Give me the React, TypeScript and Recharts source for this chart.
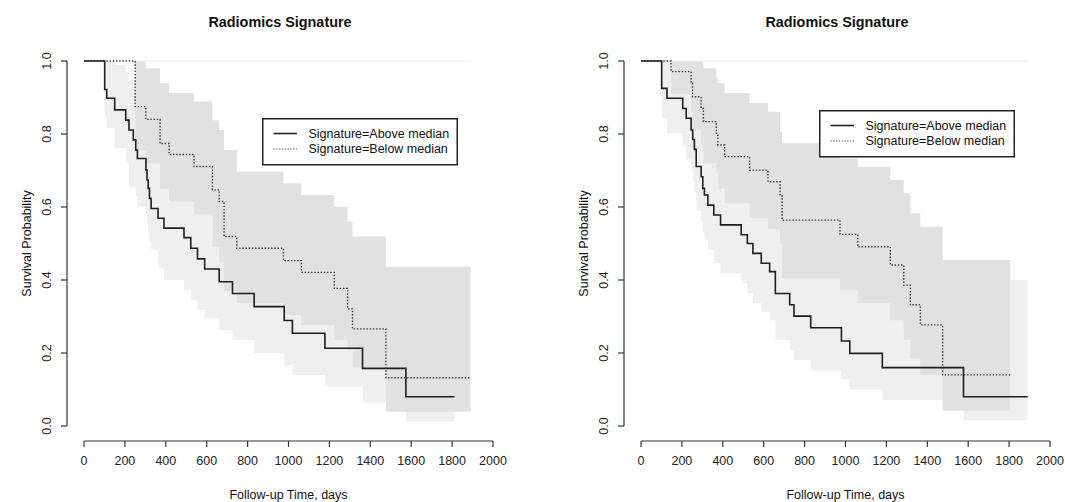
import React from 'react';
import { ComposedChart, Line, Area, XAxis, YAxis, ReferenceLine } from 'recharts';

const FONT = '"Liberation Sans", Arial, Helvetica, sans-serif';

const xTicks = [0, 200, 400, 600, 800, 1000, 1200, 1400, 1600, 1800, 2000];
const yTicks = [0, 0.2, 0.4, 0.6, 0.8, 1.0];
const legendLabels = ['Signature=Above median', 'Signature=Below median'];

// left panel, Above median (solid)
const leftAboveTime = [0, 101, 111, 150, 204, 220, 241, 253, 261, 303, 308, 314, 320, 328, 362, 391, 489, 522, 555, 590, 661, 726, 832, 979, 1019, 1178, 1362, 1574, 1811];
const leftAboveSurv = [1, 0.922, 0.898, 0.866, 0.838, 0.811, 0.784, 0.756, 0.733, 0.701, 0.674, 0.651, 0.624, 0.596, 0.569, 0.542, 0.516, 0.487, 0.458, 0.43, 0.395, 0.363, 0.327, 0.289, 0.254, 0.213, 0.158, 0.08, 0.08];
const leftAboveLower = [1, 0.847, 0.816, 0.761, 0.72, 0.656, 0.656, 0.63, 0.601, 0.58, 0.555, 0.53, 0.505, 0.482, 0.432, 0.4, 0.373, 0.345, 0.318, 0.295, 0.263, 0.236, 0.199, 0.167, 0.14, 0.108, 0.065, 0.012, 0.012];
const leftAboveUpper = [1, 1, 1, 0.99, 0.97, 0.95, 0.93, 0.91, 0.89, 0.87, 0.85, 0.83, 0.81, 0.79, 0.76, 0.74, 0.71, 0.69, 0.66, 0.63, 0.6, 0.56, 0.53, 0.48, 0.44, 0.4, 0.34, 0.26, 0.26];

// left panel, Below median (dotted)
const leftBelowTime = [0, 250, 302, 372, 416, 538, 628, 661, 685, 747, 975, 1063, 1224, 1289, 1313, 1476, 1890];
const leftBelowSurv = [1, 0.875, 0.84, 0.774, 0.744, 0.711, 0.647, 0.615, 0.519, 0.487, 0.453, 0.421, 0.377, 0.321, 0.266, 0.132, 0.132];
const leftBelowLower = [1, 0.755, 0.72, 0.65, 0.615, 0.58, 0.49, 0.45, 0.37, 0.337, 0.304, 0.277, 0.236, 0.208, 0.16, 0.039, 0.039];
const leftBelowUpper = [1, 1, 0.98, 0.939, 0.912, 0.889, 0.838, 0.811, 0.756, 0.697, 0.665, 0.633, 0.601, 0.56, 0.519, 0.436, 0.436];

// right panel, Above median (solid)
const rightAboveTime = [0, 101, 127, 204, 221, 245, 253, 261, 270, 294, 302, 310, 327, 356, 389, 490, 520, 547, 588, 629, 657, 727, 748, 830, 980, 1021, 1180, 1577, 1891];
const rightAboveSurv = [1, 0.925, 0.898, 0.87, 0.843, 0.811, 0.785, 0.758, 0.711, 0.683, 0.651, 0.633, 0.605, 0.578, 0.551, 0.524, 0.5, 0.473, 0.446, 0.423, 0.363, 0.332, 0.301, 0.269, 0.233, 0.199, 0.16, 0.08, 0.08];
const rightAboveLower = [1, 0.843, 0.802, 0.77, 0.73, 0.7, 0.67, 0.64, 0.59, 0.56, 0.53, 0.51, 0.482, 0.446, 0.418, 0.391, 0.364, 0.336, 0.313, 0.29, 0.236, 0.208, 0.181, 0.153, 0.128, 0.1, 0.071, 0.016, 0.016];
const rightAboveUpper = [1, 1, 0.995, 0.98, 0.96, 0.94, 0.92, 0.9, 0.86, 0.84, 0.81, 0.79, 0.77, 0.74, 0.72, 0.7, 0.68, 0.65, 0.63, 0.61, 0.56, 0.53, 0.5, 0.47, 0.43, 0.4, 0.37, 0.4, 0.4];

// right panel, Below median (dotted)
const rightBelowTime = [0, 147, 245, 252, 294, 305, 368, 376, 409, 531, 621, 680, 690, 973, 1060, 1219, 1285, 1317, 1366, 1475, 1806];
const rightBelowSurv = [1, 0.971, 0.939, 0.902, 0.87, 0.834, 0.802, 0.77, 0.738, 0.701, 0.669, 0.63, 0.564, 0.525, 0.491, 0.441, 0.386, 0.332, 0.277, 0.14, 0.14];
const rightBelowLower = [1, 0.91, 0.86, 0.81, 0.77, 0.72, 0.69, 0.65, 0.61, 0.57, 0.54, 0.5, 0.405, 0.373, 0.336, 0.29, 0.236, 0.185, 0.14, 0.042, 0.042];
const rightBelowUpper = [1, 1, 1, 1, 1, 0.98, 0.955, 0.939, 0.912, 0.885, 0.861, 0.806, 0.775, 0.733, 0.71, 0.674, 0.638, 0.583, 0.546, 0.455, 0.455];

type Pt = { t: number; s: number; lo: number; hi: number };

const toSteps = (time: number[], surv: number[], lo: number[], hi: number[]): Pt[] =>
  time.map((t, i) => ({ t, s: surv[i], lo: lo[i], hi: hi[i] }));

const Y_MIN = -0.0411;
const X_MIN = -83.2;

const YTick = (props: any) => {
  const { x, y, payload } = props;
  const cx = x - 12;
  return (
    <text x={cx} y={y} dy="0.35em" transform={`rotate(-90 ${cx} ${y})`} textAnchor="middle" fontSize={12.5} fill="#222" fontFamily={FONT}>
      {Number(payload.value).toFixed(1)}
    </text>
  );
};

const Legend = ({ left, top }: { left: number; top: number }) => (
  <svg width={196} height={48} style={{ position: 'absolute', left, top }}>
    <rect x={0.75} y={0.75} width={194.5} height={46} fill="#fff" stroke="#222" strokeWidth={1.5} />
    <line x1={11.5} x2={35} y1={15.5} y2={15.5} stroke="#222" strokeWidth={1.6} />
    <line x1={11.5} x2={35} y1={31} y2={31} stroke="#444" strokeWidth={1.2} strokeDasharray="1.2 1.6" />
    <text x={46.5} y={15.5} dy="0.35em" fontSize={12.5} fill="#111" fontFamily={FONT}>{legendLabels[0]}</text>
    <text x={46.5} y={31} dy="0.35em" fontSize={12.5} fill="#111" fontFamily={FONT}>{legendLabels[1]}</text>
  </svg>
);

const Panel = ({ left, above, below, legendLeft, legendTop }: { left: number; above: Pt[]; below: Pt[]; legendLeft: number; legendTop: number }) => {
  const bandStart = below[1].t;
  const bandEnd = Math.max(above[above.length - 1].t, below[below.length - 1].t);
  return (
    <div style={{ position: 'absolute', left, top: 0, width: 532, height: 502 }}>
      <ComposedChart width={532} height={502} margin={{ top: 46.4, right: 39, bottom: 0, left: 0 }}>
        <XAxis
          type="number"
          dataKey="t"
          domain={[X_MIN, 2000]}
          ticks={xTicks}
          interval={0}
          allowDataOverflow
          axisLine={false}
          tickSize={6}
          tickMargin={9}
          height={61}
          tickLine={{ stroke: '#333', strokeWidth: 1.2 }}
          tick={{ fontSize: 12.5, fill: '#222', fontFamily: FONT }}
        />
        <YAxis
          type="number"
          domain={[Y_MIN, 1.04]}
          ticks={yTicks}
          interval={0}
          allowDataOverflow
          width={67}
          axisLine={false}
          tickSize={6}
          tickMargin={2}
          tickLine={{ stroke: '#333', strokeWidth: 1.2 }}
          tick={(p: any) => <YTick {...p} />}
        />
        <Area data={above} dataKey={(d: Pt) => [d.lo, d.hi]} type="stepAfter" fill="#efefef" fillOpacity={1} stroke="none" isAnimationActive={false} />
        <Area data={below} dataKey={(d: Pt) => [d.lo, d.hi]} type="stepAfter" fill="#e1e1e1" fillOpacity={1} stroke="none" isAnimationActive={false} />
        <ReferenceLine segment={[{ x: bandStart, y: 1 }, { x: bandEnd, y: 1 }]} stroke="#f0f0f0" strokeWidth={1.5} ifOverflow="visible" />
        <Line data={below} dataKey="s" type="stepAfter" stroke="#333" strokeWidth={1.4} strokeDasharray="1.4 1.8" dot={false} activeDot={false} isAnimationActive={false} />
        <Line data={above} dataKey="s" type="stepAfter" stroke="#1e1e1e" strokeWidth={1.6} dot={false} activeDot={false} isAnimationActive={false} />
        <ReferenceLine segment={[{ x: 0, y: Y_MIN }, { x: 2000, y: Y_MIN }]} stroke="#333" strokeWidth={1.2} ifOverflow="visible" />
        <ReferenceLine segment={[{ x: X_MIN, y: 0 }, { x: X_MIN, y: 1 }]} stroke="#333" strokeWidth={1.2} ifOverflow="visible" />
        <text x={280} y={26.5} textAnchor="middle" fontSize={14.4} fontWeight="bold" fill="#111" fontFamily={FONT}>Radiomics Signature</text>
        <text x={288.5} y={499} textAnchor="middle" fontSize={12.5} fill="#111" fontFamily={FONT}>Follow-up Time, days</text>
        <text x={27} y={243.5} dy="0.35em" transform="rotate(-90 27 243.5)" textAnchor="middle" fontSize={12.5} fill="#111" fontFamily={FONT}>Survival Probability</text>
      </ComposedChart>
      <Legend left={legendLeft} top={legendTop} />
    </div>
  );
};

export default function App() {
  const leftAbove = toSteps(leftAboveTime, leftAboveSurv, leftAboveLower, leftAboveUpper);
  const leftBelow = toSteps(leftBelowTime, leftBelowSurv, leftBelowLower, leftBelowUpper);
  const rightAbove = toSteps(rightAboveTime, rightAboveSurv, rightAboveLower, rightAboveUpper);
  const rightBelow = toSteps(rightBelowTime, rightBelowSurv, rightBelowLower, rightBelowUpper);
  return (
    <div style={{ position: 'absolute', left: 0, top: 0, width: 1065, height: 502, background: '#fff', overflow: 'hidden' }}>
      <Panel left={0} above={leftAbove} below={leftBelow} legendLeft={261.5} legendTop={118} />
      <Panel left={557} above={rightAbove} below={rightBelow} legendLeft={261.5} legendTop={109.5} />
    </div>
  );
}
